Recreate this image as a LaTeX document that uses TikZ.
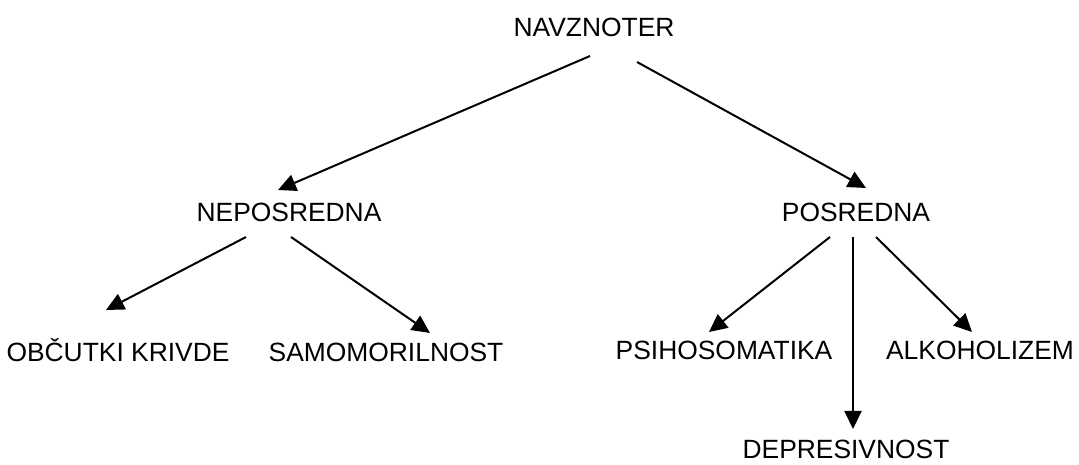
\documentclass[tikz,border=0pt]{standalone}
\usepackage{fontspec}
\setmainfont{Liberation Sans}
\usetikzlibrary{arrows.meta,calc}
\tikzset{
  term/.style={inner sep=0pt, anchor=base, font=\fontsize{26.4}{30}\selectfont},
  arr/.style={line width=2pt, -{Triangle[length=18pt,width=17pt]}}
}
\begin{document}
\begin{tikzpicture}[x=1pt,y=1pt]
\fill[white] (0,0) rectangle (1079,465);
\useasboundingbox (0,0) rectangle (1079,465);
% tree of terms
\node[term] (nav) at (594,428) {NAVZNOTER};
\node[term] (nep) at (289,243) {NEPOSREDNA};
\node[term] (pos) at (856,243) {POSREDNA};
\node[term] (obc) at (118,103) {OBČUTKI KRIVDE};
\node[term] (sam) at (386,103) {SAMOMORILNOST};
\node[term] (psi) at (724,105) {PSIHOSOMATIKA};
\node[term] (alk) at (980,105) {ALKOHOLIZEM};
\node[term] (dep) at (846,6) {DEPRESIVNOST};
% connectors
\draw[arr] ($(nav.base)+(-4,-19)$) -- ($(nep.base)+(-11,32)$);
\draw[arr] ($(nav.base)+(43,-25)$) -- ($(pos.base)+(10,34)$);
\draw[arr] ($(nep.base)+(-43,-15)$) -- ($(obc.base)+(-12,52)$);
\draw[arr] ($(nep.base)+(2,-15)$) -- ($(sam.base)+(44,29)$);
\draw[arr] ($(pos.base)+(-26,-15)$) -- ($(psi.base)+(-15,28)$);
\draw[arr] ($(pos.base)+(-3,-15)$) -- ($(dep.base)+(7,30)$);
\draw[arr] ($(pos.base)+(20,-15)$) -- ($(alk.base)+(-8,28)$);
\end{tikzpicture}
\end{document}
